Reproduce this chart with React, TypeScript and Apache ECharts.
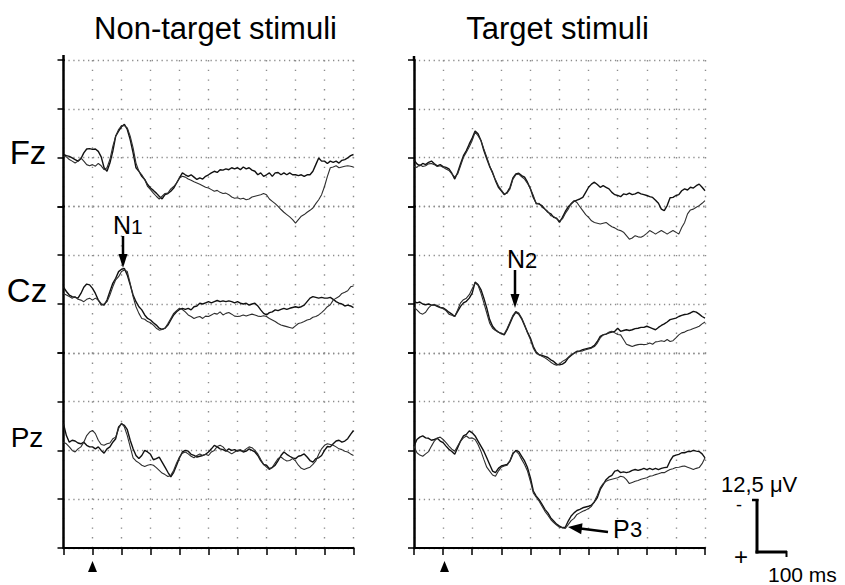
import React, { useEffect, useRef } from "react";
import * as echarts from "echarts";

// time (ms) relative to stimulus onset
const TIMES = [
  -100, -90, -80, -70, -60, -50, -40, -30, -20, -10,
  0, 10, 20, 30, 40, 50, 60, 70, 80, 90,
  100, 110, 120, 130, 140, 150, 160, 170, 180, 190,
  200, 210, 220, 230, 240, 250, 260, 270, 280, 290,
  300, 310, 320, 330, 340, 350, 360, 370, 380, 390,
  400, 410, 420, 430, 440, 450, 460, 470, 480, 490,
  500, 510, 520, 530, 540, 550, 560, 570, 580, 590,
  600, 610, 620, 630, 640, 650, 660, 670, 680, 690,
  700, 710, 720, 730, 740, 750, 760, 770, 780, 790,
  800, 810, 820, 830, 840, 850, 860, 870, 880, 890, 900,
];

// µV, negative plotted upward
const NT_FZ_A = [
  -0.8, -0.5, -0.3, 0.1, 0.5, 0.9, 0.3, -1.2, -2.2, -2.3,
  -2.1, -2.2, -1.6, -0.2, 2.6, 3.5, 1.4, -1.6, -5.5, -6.8,
  -7.9, -8.5, -7.2, -4.6, -1.2, 2.6, 3.5, 4.8, 5.6, 6.9,
  7.8, 8.4, 9.1, 9.9, 10.6, 9.5, 9.2, 8.6, 7.8, 6.5,
  5.2, 3.9, 4.4, 4.8, 4.4, 5.0, 5.6, 5.2, 5.5, 4.8,
  4.4, 3.9, 3.5, 3.8, 3.1, 3.2, 2.9, 3.1, 2.6, 2.9,
  2.6, 3.1, 2.4, 2.9, 2.6, 3.2, 3.5, 4.4, 3.9, 4.8,
  4.4, 3.9, 4.8, 3.9, 3.8, 4.4, 3.9, 4.4, 3.9, 4.4,
  4.4, 4.6, 4.4, 4.8, 4.4, 4.4, 3.5, 1.8, 0.1, 0.9,
  0.9, 1.5, 0.9, 1.2, 0.9, 1.4, 0.7, 0.5, 0.1, -0.5, -0.8,
];
const NT_FZ_B = [
  -0.3, -0.2, 0.5, 0.9, 1.4, 0.9, 0.1, 0.9, 1.8, 2.1,
  1.8, 2.2, 1.5, 2.1, 3.1, 2.6, 0.5, -2.9, -5.5, -7.2,
  -8.2, -8.2, -7.6, -5.5, -2.5, 1.4, 3.5, 4.4, 5.6, 7.4,
  8.2, 9.1, 9.9, 10.6, 9.9, 9.2, 9.1, 8.0, 7.4, 6.5,
  5.2, 4.8, 5.0, 5.5, 5.8, 6.2, 6.5, 6.8, 7.2, 7.6,
  7.8, 8.2, 8.6, 8.4, 8.9, 9.2, 9.1, 9.5, 10.1, 10.4,
  10.3, 10.6, 10.4, 10.8, 10.6, 10.1, 9.9, 9.7, 9.5, 9.2,
  9.5, 10.6, 11.2, 11.8, 12.5, 13.3, 14.0, 14.6, 15.2, 15.9,
  16.8, 15.9, 15.0, 14.6, 14.0, 13.5, 12.9, 11.8, 10.8, 9.5,
  7.4, 4.8, 2.6, 2.4, 2.1, 2.6, 2.4, 2.2, 2.1, 2.2, 2.4,
];
const NT_CZ_A = [
  -4.3, -3.2, -2.3, -1.9, -1.7, -1.5, -2.7, -4.3, -5.1, -4.9,
  -4.0, -2.7, -1.0, 0, 0.3, -1.0, -3.2, -5.3, -6.6, -8.3,
  -8.9, -9.1, -7.4, -4.9, -2.3, -0.6, 0.7, 1.5, 2.8, 3.7,
  4.1, 4.8, 5.4, 6.2, 6.5, 6.2, 5.4, 4.1, 2.8, 2.0,
  1.4, 1.1, 1.4, 1.1, 1.5, 0.7, 0.5, -0.2, 0, -0.3,
  -0.6, -0.3, -0.6, -0.9, -0.6, -0.8, -0.6, -0.8, -0.6, -0.3,
  -0.6, -0.2, 0, -0.2, 0.3, 0.0, -0.2, 0.5, 1.5, 2.4,
  2.8, 2.2, 2.0, 1.5, 1.7, 1.4, 1.1, 1.4, 1.1, 0.9,
  0.7, 0.9, 0.7, 0.3, -0.6, -1.5, -1.9, -1.7, -1.5, -1.7,
  -1.5, -1.5, -1.7, -1.2, -0.6, -0.2, 0, 0.5, 0.3, 0.5, 0.9,
];
const NT_CZ_B = [
  -2.7, -2.3, -1.9, -1.5, -1.9, -1.2, -1.0, -0.6, -1.2, -1.5,
  -1.0, -1.5, -1.0, 0.3, 0, -0.6, -2.3, -4.4, -6.2, -7.0,
  -8.3, -8.7, -8.3, -5.3, -1.9, 0.7, 2.4, 3.7, 3.9, 4.5,
  4.8, 5.4, 6.2, 6.7, 6.5, 6.2, 5.0, 3.7, 2.4, 1.7,
  1.1, 1.4, 2.0, 2.8, 3.2, 3.7, 3.4, 3.2, 3.7, 3.1,
  3.2, 2.8, 2.4, 2.6, 2.0, 2.8, 2.4, 2.2, 2.6, 3.1,
  3.2, 3.1, 2.8, 3.1, 2.8, 2.6, 2.8, 3.1, 3.2, 3.0,
  3.2, 3.7, 4.1, 4.5, 5.0, 5.4, 5.6, 5.8, 6.0, 6.2,
  5.6, 5.0, 4.8, 4.5, 4.1, 3.9, 3.4, 3.2, 2.8, 2.2,
  1.5, 0.7, 0.2, -1.0, -1.5, -1.9, -2.7, -3.0, -3.4, -4.4, -4.6,
];
const NT_PZ_A = [
  -6.8, -3.8, -2.1, -2.6, -2.4, -1.9, -1.7, -2.1, -1.3, -0.9,
  -0.9, -0.4, -0.9, 0, 0.7, -0.4, -0.9, -2.1, -3.0, -6.0,
  -6.8, -6.4, -5.3, -2.6, -0.4, 1.3, 2.1, 1.3, 0, 0.4,
  1.0, 2.4, 2.1, 1.7, 3.0, 4.3, 5.6, 6.8, 5.6, 3.8,
  1.9, 0.4, 0, 0.2, 1.0, 1.3, 1.7, 1.5, 1.3, 1.0,
  0.4, -0.4, -1.3, -0.9, -0.4, -0.2, 0.2, -0.4, 0, -0.2,
  0.2, 0, 0.4, 0.2, -0.4, 0, 0.4, 1.3, 2.6, 3.6,
  3.8, 4.7, 4.4, 3.8, 2.6, 1.3, 0.4, 1.0, 1.5, 1.9,
  2.1, 1.5, 1.3, 0.9, 1.7, 2.6, 3.0, 2.1, 1.9, 1.3,
  0, -1.0, -0.9, -1.7, -2.4, -2.6, -2.1, -2.4, -3.0, -4.1, -5.1,
];
const NT_PZ_B = [
  -2.1, -1.7, -0.9, 0, 0.4, -0.4, -0.9, -2.1, -3.8, -4.7,
  -5.1, -4.3, -2.6, -1.5, -1.3, -1.7, -1.9, -3.0, -3.4, -5.6,
  -7.0, -6.0, -3.8, -0.9, 1.9, 2.7, 3.2, 3.8, 4.1, 3.8,
  3.6, 3.8, 4.4, 5.1, 5.8, 6.2, 6.7, 6.4, 5.1, 3.2,
  1.7, 0.7, 0.4, 0.9, 1.5, 1.9, 1.3, 0.9, 1.3, 1.0,
  1.3, 0.4, 0, -1.0, -1.3, -0.9, 0, 0.4, 0.9, 0.4,
  0, -0.2, 0.2, -0.4, -0.9, -0.7, 0, 0.9, 2.3, 3.6,
  4.3, 4.9, 4.3, 3.2, 2.1, 1.7, 2.3, 2.7, 2.6, 2.1,
  2.7, 3.8, 4.6, 4.9, 4.6, 4.3, 3.6, 2.7, 1.0, -0.4,
  -1.3, -1.7, -1.5, -1.3, -0.9, -0.4, -0.2, 0.2, 0.4, 0.9, 1.3,
];
const T_FZ_A = [
  0.6, 1.6, 2.1, 1.5, 1.8, 1.2, 0.9, 1.6, 2.1, 1.8,
  2.3, 2.5, 2.9, 4.0, 5.5, 3.8, 1.6, -0.5, -1.8, -3.5,
  -5.0, -6.8, -6.1, -4.4, -1.8, 0.3, 2.3, 3.8, 5.9, 7.6,
  8.5, 9.5, 8.9, 7.6, 5.2, 4.2, 4.0, 4.6, 5.0, 6.3,
  8.0, 10.2, 11.7, 11.9, 12.3, 13.2, 14.0, 14.4, 15.3, 15.5,
  16.6, 15.3, 13.8, 12.6, 11.9, 11.2, 10.9, 10.6, 10.2, 8.9,
  7.6, 6.8, 6.3, 6.9, 7.6, 7.2, 7.6, 8.0, 8.9, 9.5,
  9.7, 10.0, 9.3, 9.5, 9.1, 9.5, 9.3, 8.9, 9.3, 9.5,
  9.7, 10.0, 10.2, 10.9, 11.7, 13.2, 13.6, 12.3, 10.3, 10.2,
  9.7, 9.5, 8.5, 8.0, 8.3, 7.6, 7.8, 7.2, 6.8, 7.6, 8.5,
];
const T_FZ_B = [
  2.3, 2.5, 1.8, 2.3, 2.1, 1.6, 1.5, 1.8, 2.3, 2.1,
  2.5, 2.9, 3.3, 4.2, 5.0, 4.2, 2.1, -0.1, -1.4, -2.8,
  -4.4, -6.5, -5.6, -4.4, -2.2, -0.1, 2.1, 4.0, 5.7, 7.2,
  8.3, 9.3, 9.1, 8.0, 5.5, 4.4, 4.2, 4.9, 5.5, 6.6,
  8.0, 9.7, 11.9, 11.7, 12.7, 13.2, 13.8, 14.9, 15.1, 15.7,
  16.2, 15.7, 14.3, 13.2, 11.7, 11.0, 11.5, 12.6, 13.6, 14.6,
  15.3, 16.2, 16.6, 16.8, 17.0, 16.8, 16.6, 17.2, 17.7, 18.0,
  18.5, 18.7, 19.1, 20.0, 20.9, 20.6, 20.0, 20.3, 20.4, 20.0,
  19.4, 18.7, 19.1, 19.6, 19.1, 18.7, 19.1, 19.6, 19.1, 18.7,
  19.1, 19.6, 17.9, 16.6, 14.4, 13.4, 13.2, 12.7, 12.3, 11.7, 11.0,
];
const T_CZ_A = [
  -0.7, -0.3, -0.5, 0, 0.2, 0, 0.3, 0.2, 0.6, 0.9,
  1.0, 1.5, 2.1, 2.6, 3.2, 1.9, 0.6, -0.3, -0.7, -1.5,
  -2.8, -5.6, -5.0, -3.7, -1.5, 1.0, 4.0, 5.7, 6.6, 7.2,
  7.5, 7.9, 6.6, 4.9, 3.2, 2.1, 2.6, 3.8, 5.5, 7.2,
  8.7, 10.9, 12.3, 13.0, 13.2, 13.4, 13.7, 14.3, 14.7, 15.4,
  15.6, 15.4, 14.9, 13.8, 13.2, 12.6, 12.1, 12.0, 11.7, 11.5,
  11.3, 11.1, 10.6, 9.6, 8.3, 7.9, 7.7, 7.4, 7.2, 7.0,
  6.2, 7.0, 6.8, 6.6, 6.8, 6.6, 6.3, 6.2, 6.0, 6.0,
  5.7, 6.0, 6.3, 6.6, 6.0, 5.5, 5.1, 4.6, 4.0, 3.8,
  3.6, 3.2, 2.9, 2.7, 2.6, 2.3, 1.9, 2.1, 2.6, 3.2, 3.6,
];
const T_CZ_B = [
  0.9, 1.5, 2.3, 2.6, 2.1, 1.0, 0.3, 0.2, 0.3, 0.9,
  1.2, 1.7, 2.6, 2.9, 3.2, 1.5, -0.3, -1.1, -1.5, -2.4,
  -3.9, -5.4, -4.8, -2.8, -0.3, 2.3, 4.9, 6.2, 6.8, 7.2,
  7.7, 7.7, 6.3, 4.6, 2.9, 1.9, 2.3, 3.6, 5.3, 7.4,
  9.1, 11.3, 12.6, 13.0, 13.4, 13.8, 14.3, 14.9, 15.4, 15.7,
  15.4, 14.7, 14.3, 13.7, 13.0, 12.6, 12.3, 12.1, 12.0, 11.7,
  11.5, 11.3, 10.9, 10.0, 8.7, 7.9, 7.7, 7.2, 7.0, 7.4,
  7.8, 7.9, 9.1, 10.3, 10.6, 10.9, 10.6, 10.4, 10.3, 10.4,
  10.3, 10.0, 10.3, 9.7, 9.6, 9.4, 9.6, 9.1, 9.6, 9.4,
  8.7, 7.9, 7.4, 7.2, 6.8, 6.6, 6.3, 6.0, 5.7, 5.1, 4.6,
];
const T_PZ_A = [
  -1.1, -2.8, -3.4, -3.7, -3.2, -3.1, -2.6, -2.8, -3.1, -2.4,
  -2.0, -1.1, -0.3, 0.3, 1.0, -0.7, -2.4, -3.7, -4.1, -5.0,
  -4.5, -3.7, -2.4, -1.1, 0.2, 1.9, 3.6, 5.3, 5.7, 4.6,
  4.0, 3.8, 3.6, 2.7, 0.9, 0, 0.3, 1.5, 2.7, 4.4,
  7.0, 10.4, 11.7, 12.6, 13.8, 15.1, 16.0, 17.3, 18.1, 18.9,
  19.4, 19.8, 19.7, 18.1, 16.8, 16.0, 15.4, 15.1, 14.7, 14.5,
  14.3, 14.0, 13.2, 12.1, 10.0, 8.8, 7.5, 6.8, 6.4, 5.3,
  5.1, 5.7, 5.5, 5.7, 5.5, 5.1, 4.9, 5.1, 4.9, 4.6,
  4.9, 4.6, 4.9, 4.6, 4.9, 4.6, 4.4, 4.3, 2.7, 1.5,
  1.2, 1.0, 0.6, 0.6, 0.3, 0.3, 0, 0.2, 0.3, 0.9, 1.9,
];
const T_PZ_B = [
  -1.1, 0.6, 1.2, 1.5, 0.9, 0.3, -1.1, -2.4, -3.2, -3.4,
  -2.8, -2.0, -1.1, -0.3, 0.2, -1.1, -2.4, -3.2, -3.7, -3.1,
  -3.2, -2.8, -1.5, 0.2, 2.3, 4.3, 5.3, 6.3, 6.6, 5.3,
  4.3, 4.0, 3.8, 2.6, 0.6, 0.2, 0.9, 2.3, 3.6, 5.3,
  7.9, 10.9, 12.0, 13.0, 14.3, 15.6, 16.6, 17.7, 18.5, 19.1,
  19.7, 19.8, 20.0, 19.0, 18.0, 17.4, 16.4, 16.0, 15.6, 15.3,
  14.9, 14.3, 13.0, 11.5, 9.6, 8.5, 7.9, 7.6, 7.4, 7.2,
  7.0, 6.6, 6.8, 7.5, 8.5, 8.2, 7.9, 7.7, 7.4, 7.2,
  7.0, 6.6, 6.5, 6.2, 6.0, 5.7, 5.7, 5.3, 4.9, 4.7,
  4.4, 4.3, 4.1, 4.0, 4.3, 4.6, 4.9, 4.6, 4.4, 3.4, 1.9,
];

const PANEL_TITLES = ["Non-target stimuli", "Target stimuli"];
const CHANNELS = ["Fz", "Cz", "Pz"];
const TRACES = [
  [[NT_FZ_A, NT_FZ_B], [NT_CZ_A, NT_CZ_B], [NT_PZ_A, NT_PZ_B]],
  [[T_FZ_A, T_FZ_B], [T_CZ_A, T_CZ_B], [T_PZ_A, T_PZ_B]],
];
const SCALE_V = "12,5 μV";
const SCALE_T = "100 ms";

const FONT = "'Liberation Sans', Arial, Helvetica, sans-serif";
const PANELS = [
  { left: 63.5, width: 290, titleX: 215.5 },
  { left: 414, width: 291, titleX: 557.5 },
];
const ROWS = [
  { top: 60, height: 146.4, min: -25, max: 12.5 },
  { top: 206.4, height: 146.4, min: -25, max: 12.5 },
  { top: 352.8, height: 195.2, min: -25, max: 25 },
];
const GRID_DOT = "#8c8c8c";

function buildOption() {
  const grid: any[] = [];
  const xAxis: any[] = [];
  const yAxis: any[] = [];
  const series: any[] = [];
  PANELS.forEach((p, pi) => {
    ROWS.forEach((r, ri) => {
      const gi = grid.length;
      const isBottom = ri === ROWS.length - 1;
      grid.push({ left: p.left, width: p.width, top: r.top, height: r.height, containLabel: false });
      xAxis.push({
        type: "value",
        gridIndex: gi,
        min: -100,
        max: 900,
        interval: 100,
        axisLine: { show: isBottom, onZero: false, lineStyle: { color: "#000", width: 2 } },
        axisTick: { show: isBottom, length: 7, lineStyle: { color: "#000", width: 1.5 } },
        axisLabel: { show: false },
        splitLine: { show: true, lineStyle: { color: GRID_DOT, width: 1.4, type: [1.4, 8.3] } },
      });
      yAxis.push({
        type: "value",
        gridIndex: gi,
        inverse: true,
        min: r.min,
        max: r.max,
        interval: 12.5,
        axisLine: { show: true, onZero: false, lineStyle: { color: "#000", width: 2.5 } },
        axisTick: { show: true, length: 6, lineStyle: { color: "#000", width: 1.5 } },
        axisLabel: { show: false },
        splitLine: { show: true, lineStyle: { color: GRID_DOT, width: 1.3, type: [1.3, 3.6] } },
      });
      TRACES[pi][ri].forEach((vals, k) => {
        series.push({
          type: "line",
          name: `${PANEL_TITLES[pi]} ${CHANNELS[ri]} ${k + 1}`,
          xAxisIndex: gi,
          yAxisIndex: gi,
          data: TIMES.map((t, i) => [t, vals[i]]),
          showSymbol: false,
          symbol: "none",
          clip: false,
          silent: true,
          z: 5,
          lineStyle: { color: k === 0 ? "#111" : "#2e2e2e", width: k === 0 ? 1.4 : 1.1 },
        });
      });
    });
  });

  const text = (t: string, x: number, y: number, size: number, align = "left") => ({
    type: "text",
    x,
    y,
    z: 10,
    style: {
      text: t,
      fontSize: size,
      fontFamily: FONT,
      fill: "#000",
      align,
      verticalAlign: "middle",
    },
  });
  const line = (x1: number, y1: number, x2: number, y2: number, w: number) => ({
    type: "line",
    z: 10,
    shape: { x1, y1, x2, y2 },
    style: { stroke: "#000", lineWidth: w },
  });
  const poly = (pts: number[][]) => ({
    type: "polygon",
    z: 10,
    shape: { points: pts },
    style: { fill: "#000" },
  });

  const graphic: any[] = [
    text(PANEL_TITLES[0], PANELS[0].titleX, 28, 31, "center"),
    text(PANEL_TITLES[1], PANELS[1].titleX, 28, 31, "center"),
    text(CHANNELS[0], 28, 152, 33, "center"),
    text(CHANNELS[1], 27, 290, 33, "center"),
    text(CHANNELS[2], 27, 437.5, 28, "center"),
    // axis top extensions
    line(PANELS[0].left, 55, PANELS[0].left, 61, 2.5),
    line(PANELS[1].left, 56, PANELS[1].left, 61, 2.5),
    // stimulus onset markers
    poly([[88, 572], [97, 572], [92.5, 561]]),
    poly([[440, 572], [449, 572], [444.5, 561]]),
    // N1
    text("N", 113, 225, 25),
    text("1", 131, 226.5, 21),
    line(123, 236, 123, 256, 2.5),
    poly([[118.5, 254], [127.5, 254], [123, 268]]),
    // N2
    text("N", 507, 259, 25),
    text("2", 525, 260, 22),
    line(515, 270, 515, 296, 2.5),
    poly([[510.5, 294], [519.5, 294], [515, 308]]),
    // P3
    text("P", 613, 528.5, 25),
    text("3", 630, 529.5, 22),
    line(580.5, 528.6, 608, 532, 2.5),
    poly([[568, 527], [582.5, 523.2], [581.2, 534.2]]),
    // scale bar
    text(SCALE_V, 721, 484, 22),
    text("-", 739, 505, 18, "center"),
    text("+", 741, 556, 24, "center"),
    line(757, 499, 757, 553.5, 3),
    line(752, 500, 758.5, 500, 2.5),
    line(755.5, 552, 787, 552, 3),
    line(786.5, 551, 786.5, 557, 2),
    text(SCALE_T, 768, 574.5, 21),
  ];

  return {
    animation: false,
    backgroundColor: "#fff",
    grid,
    xAxis,
    yAxis,
    series,
    graphic,
  };
}

export default function App() {
  const ref = useRef<HTMLDivElement>(null);
  useEffect(() => {
    if (!ref.current) return;
    const chart = echarts.init(ref.current, null, { renderer: "svg" });
    chart.setOption(buildOption() as any);
    return () => chart.dispose();
  }, []);
  return (
    <div
      ref={ref}
      style={{ position: "absolute", left: 0, top: 0, width: 845, height: 585, background: "#fff" }}
    />
  );
}
